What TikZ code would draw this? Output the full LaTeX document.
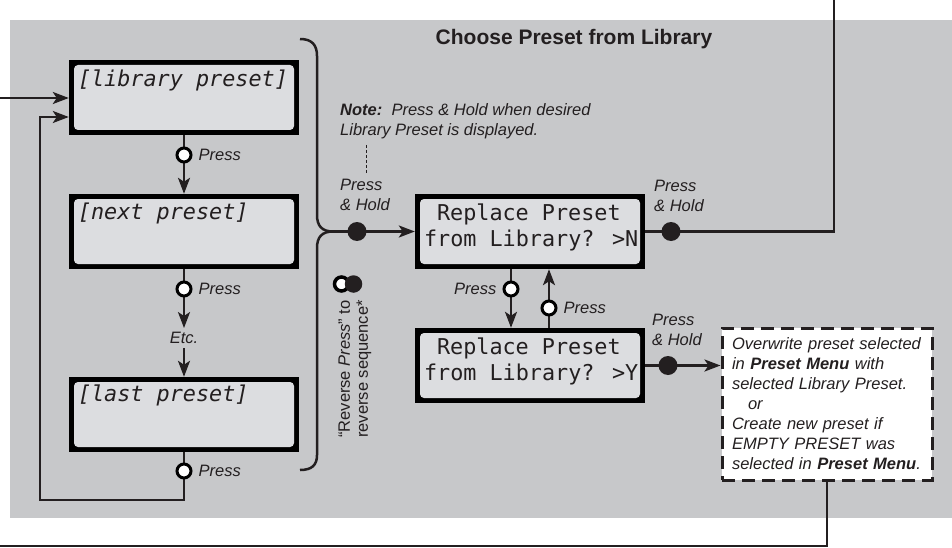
\documentclass[tikz,border=0pt]{standalone}
\usepackage{fontspec}
\setmainfont{Liberation Sans}
\newfontfamily\lcdfont{DejaVu Sans Mono}
\usetikzlibrary{arrows.meta}
\definecolor{bg}{RGB}{199,200,202}
\definecolor{lcd}{RGB}{220,221,224}
\definecolor{ink}{RGB}{35,31,32}
\begin{document}
\begin{tikzpicture}[x=1pt,y=-1pt,
  conn/.style={draw=ink, line width=2.5pt},
  arr/.style={conn, -{Stealth[length=16pt,width=12pt,inset=4pt]}},
  lcdbox/.style={rectangle, fill=black, minimum width=230pt, minimum height=75pt, inner sep=0pt,
    path picture={\fill[lcd, rounded corners=4pt] ([shift={(5pt,-5pt)}]path picture bounding box.north west) rectangle ([shift={(-5pt,5pt)}]path picture bounding box.south east);}},
  presettext/.style={font=\lcdfont\itshape\fontsize{21.8}{26}\selectfont, anchor=base west, inner sep=0pt, text=ink},
  lcdtext/.style={font=\lcdfont\fontsize{21.8}{26}\selectfont, anchor=base west, inner sep=0pt, text=ink},
  lbl/.style={font=\itshape\fontsize{16.5}{20}\selectfont, text=ink, inner sep=0pt},
  opendot/.style={circle, draw=black, line width=3pt, fill=white, minimum size=14pt, inner sep=0pt},
  filldot/.style={circle, fill=ink, minimum size=19pt, inner sep=0pt},
]
\useasboundingbox (0,0) rectangle (952,548);
\fill[bg] (10,20) rectangle (952,518);

\node[font=\bfseries\fontsize{21}{25}\selectfont, text=ink] (title) at (574,39) {Choose Preset from Library};

% LCD boxes
\node[lcdbox] (lib) at (184,97.5) {};
\node[lcdbox] (next) at (184,231.5) {};
\node[lcdbox] (last) at (184,414.5) {};
\node[lcdbox] (repn) at (530,231.5) {};
\node[lcdbox] (repy) at (530,365.5) {};

\node[presettext] (libt) at ([shift={(9pt,-27pt)}]lib.north west) {[library preset]};
\node[presettext] (nextt) at ([shift={(9pt,-26pt)}]next.north west) {[next preset]};
\node[presettext] (lastt) at ([shift={(9pt,-25pt)}]last.north west) {[last preset]};
\node[lcdtext] (repn1) at ([shift={(22pt,-27pt)}]repn.north west) {Replace Preset};
\node[lcdtext] (repn2) at ([shift={(9pt,-53pt)}]repn.north west) {from Library? >N};
\node[lcdtext] (repy1) at ([shift={(22pt,-27pt)}]repy.north west) {Replace Preset};
\node[lcdtext] (repy2) at ([shift={(9pt,-53pt)}]repy.north west) {from Library? >Y};

% result box
\node[draw=ink, dash pattern=on 13pt off 7pt, line width=3pt, fill=white, minimum width=210pt, minimum height=152pt, inner sep=0pt, text width=190pt, align=left, font=\itshape\fontsize{16.5}{20}\selectfont, text=ink] (result) at (827,404) {Overwrite preset selected\\in \textbf{Preset Menu} with\\selected Library Preset.\\\hspace*{16pt}or\\Create new preset if\\EMPTY PRESET was\\selected in \textbf{Preset Menu}.};

% left column connectors
\coordinate (in1) at (0,98);
\draw[arr] (in1) -- (in1 -| lib.west);
\coordinate (loopL) at (40,500);
\coordinate (loopT) at (40,117);
\draw[arr] (last.south) |- (loopL) -- (loopT) -- (loopT -| lib.west);
\draw[arr] (lib.south) -- (next.north);
\node[lbl] (etc) at (184,338) {Etc.};
\draw[arr, shorten >=4pt] (next.south) -- (etc.north);
\draw[arr, shorten <=4pt] (etc.south) -- (last.north);

\node[opendot] (c1) at (184,155) {};
\node[lbl, anchor=west] at ([xshift=6pt]c1.east) {Press};
\node[opendot] (c2) at (184,289) {};
\node[lbl, anchor=west] at ([xshift=6pt]c2.east) {Press};
\node[opendot] (c3) at (184,471) {};
\node[lbl, anchor=west] at ([xshift=6pt]c3.east) {Press};

% brace
\coordinate (tip) at (333,231.5);
\draw[conn] (300,39) .. controls (312,39) and (317,45) .. (317,56) -- (317,215) .. controls (317,226) and (322,231.5) .. (tip);
\draw[conn] (tip) .. controls (322,231.5) and (317,237) .. (317,248) -- (317,455) .. controls (317,465) and (312,470) .. (300,470);

\draw[arr] (tip) -- (repn.west);
\node[filldot] (d1) at (357,231.5) {};
\node[lbl, align=left, anchor=west] (ph1) at (340,195) {Press\\\& Hold};

\node[lbl, align=left, anchor=west] (note) at (340,121.5) {\textbf{Note:}\ \ Press \& Hold when desired\\Library Preset is displayed.};
\coordinate (n1) at (366,145);
\coordinate (n2) at (366,173);
\draw[ink, line width=1pt, dash pattern=on 3pt off 2pt] (n1) -- (n2);

% reverse note
\node[font=\fontsize{16.5}{18}\selectfont, text=ink, inner sep=0pt, rotate=90, align=center] (rev) at (355,369) {“Reverse \textit{Press}” to\\reverse sequence*};
\node[circle, draw=black, line width=3.5pt, fill=white, minimum size=14pt, inner sep=0pt] (ic1) at (341.5,284) {};
\node[circle, fill=ink, minimum size=17.5pt, inner sep=0pt] (ic2) at (353.5,284) {};

% right part
\coordinate (out1) at (834,0);
\draw[conn] (repn.east) -| (out1);
\node[filldot] (d2) at (671,231.5) {};
\node[lbl, align=left, anchor=west] (ph2) at (654,196) {Press\\\& Hold};

\coordinate (xa) at (511,300);
\coordinate (xb) at (549,300);
\draw[arr] (repn.south -| xa) -- (repy.north -| xa);
\draw[arr] (repy.north -| xb) -- (repn.south -| xb);
\node[opendot] (c4) at (511,289) {};
\node[lbl, anchor=east] at ([xshift=-6pt]c4.west) {Press};
\node[opendot] (c5) at (549,308) {};
\node[lbl, anchor=west] at ([xshift=6pt]c5.east) {Press};

\draw[arr] (repy.east) -- (repy.east -| result.west);
\node[filldot] (d3) at (668,365.5) {};
\node[lbl, align=left, anchor=west] (ph3) at (652,330) {Press\\\& Hold};

\coordinate (out2) at (0,546);
\draw[conn] (result.south) |- (out2);
\end{tikzpicture}
\end{document}
